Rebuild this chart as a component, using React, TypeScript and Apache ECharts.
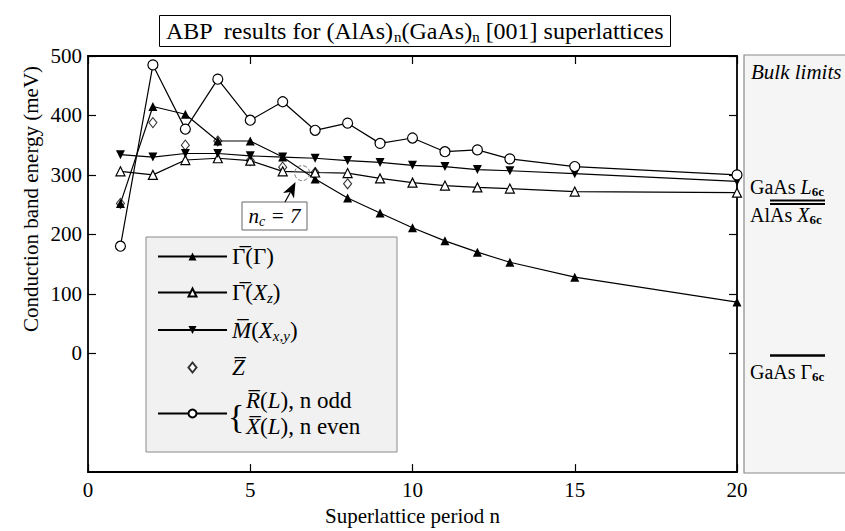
import React, { useEffect, useRef } from "react";
import * as echarts from "echarts";

const periods = [1, 2, 3, 4, 5, 6, 7, 8, 9, 10, 11, 12, 13, 15, 20];
const gammaGamma = [252, 415, 402, 357, 357, 330, 293, 261, 236, 211, 189, 170, 153, 128, 86];
const gammaXz = [306, 300, 325, 328, 324, 306, 304, 303, 294, 287, 282, 279, 277, 272, 270];
const mXxy = [334, 330, 336, 336, 332, 330, 328, 324, 321, 316, 314, 309, 307, 302, 289];
const zPeriods = [1, 2, 3, 4, 5, 6, 7, 8];
const zBar = [252, 388, 350, 357, 324, 313, 304, 285];
const rxL = [180, 485, 377, 461, 392, 423, 375, 387, 353, 362, 339, 342, 327, 314, 300];
const yTicks = [0, 100, 200, 300, 400, 500];
const crossing = [6.6, 303];

const FONT = "'Liberation Serif', 'Times New Roman', 'DejaVu Serif', serif";

function pairs(xs: number[], ys: number[]) {
  return xs.map((x, i) => [x, ys[i]]);
}

export default function App() {
  const ref = useRef<HTMLDivElement>(null);
  useEffect(() => {
    document.body.style.margin = "0";
    const chart = echarts.init(ref.current!, null, { renderer: "svg" });
    const base = { fontFamily: FONT, fontSize: 23, color: "#000", lineHeight: 26, fontWeight: "normal" };
    const rich = {
      t: { ...base },
      o: { ...base },
      i: { ...base, fontStyle: "italic" },
      io: { ...base, fontStyle: "italic" },
      s: { ...base, fontSize: 15, fontStyle: "italic", lineHeight: 15, verticalAlign: "bottom" },
      sp: { width: 14, lineHeight: 26 },
    };
    const legendLabels: Record<string, string> = {
      GG: "{o|\u0393\u0305}{t|(\u0393)}",
      GX: "{o|\u0393\u0305}{t|(}{i|X}{s|z}{t|)}",
      MX: "{io|M\u0305}{t|(}{i|X}{s|x,y}{t|)}",
      Z: "{io|Z\u0305}",
      RL: "{sp|}{io|R\u0305}{t|(}{i|L}{t|), n odd}\n{sp|}{io|X\u0305}{t|(}{i|L}{t|), n even}",
    };
    const axisCommon = {
      type: "value" as const,
      axisLine: { show: true, onZero: false, lineStyle: { color: "#000", width: 1.8 } },
      splitLine: { show: false },
    };
    const tick = { inside: true, length: 8, lineStyle: { color: "#000", width: 1.2 } };
    const panelRich = {
      r: { fontFamily: FONT, fontSize: 20, fill: "#000", lineHeight: 22 },
      i: { fontFamily: FONT, fontSize: 20, fontStyle: "italic", fill: "#000", lineHeight: 22 },
      b: { fontFamily: FONT, fontSize: 13, fontWeight: "bold", fill: "#000", lineHeight: 12, verticalAlign: "bottom" },
    };
    chart.setOption({
      animation: false,
      backgroundColor: "#fff",
      title: {
        text: "{t|ABP  results for (AlAs)}{s|n}{t|(GaAs)}{s|n}{t| [001] superlattices}",
        left: 159,
        top: 14,
        padding: [3, 7, 3, 7],
        borderWidth: 1,
        borderColor: "#000",
        textStyle: {
          fontWeight: "normal",
          fontFamily: FONT,
          rich: {
            t: { fontFamily: FONT, fontSize: 24, color: "#000", lineHeight: 27, fontWeight: "normal" },
            s: { fontFamily: FONT, fontSize: 15, color: "#000", lineHeight: 13, verticalAlign: "bottom", fontWeight: "normal" },
          },
        },
      },
      textStyle: { fontFamily: FONT },
      grid: { left: 88, top: 56, width: 649, height: 420 },
      xAxis: [
        {
          ...axisCommon,
          min: 0,
          max: 20,
          interval: 5,
          position: "bottom",
          name: "Superlattice period n",
          nameLocation: "middle",
          nameGap: 32,
          nameTextStyle: { fontFamily: FONT, fontSize: 21, color: "#000" },
          axisTick: tick,
          axisLabel: { fontFamily: FONT, fontSize: 21, color: "#000", margin: 7 },
        },
        {
          ...axisCommon,
          min: 0,
          max: 20,
          interval: 5,
          position: "top",
          axisTick: tick,
          axisLabel: { show: false },
        },
      ],
      yAxis: [
        {
          ...axisCommon,
          min: -200,
          max: 500,
          interval: 100,
          position: "left",
          axisTick: { ...tick, customValues: yTicks },
          axisLabel: {
            fontFamily: FONT,
            fontSize: 21,
            color: "#000",
            margin: 6,
            customValues: yTicks,
            formatter: (v: number) => (v < 0 ? "" : String(v)),
          },
        },
        {
          ...axisCommon,
          min: -200,
          max: 500,
          interval: 100,
          position: "right",
          axisTick: { ...tick, customValues: yTicks },
          axisLabel: { show: false },
        },
      ],
      legend: [
        {
          data: [
            { name: "GG" },
            { name: "GX" },
            { name: "MX" },
            { name: "Z", icon: "path://M0,0M69,10M34.5,0L38.5,5L34.5,10L30.5,5Z" },
          ],
          orient: "vertical",
          left: 157,
          top: 245,
          padding: 0,
          itemWidth: 69,
          itemHeight: 10,
          itemGap: 13,
          selectedMode: false,
          formatter: (name: string) => legendLabels[name],
          textStyle: { rich },
          z: 5,
        },
        {
          data: ["RL"],
          orient: "vertical",
          left: 157,
          top: 389,
          padding: 0,
          itemWidth: 69,
          itemHeight: 10,
          selectedMode: false,
          formatter: (name: string) => legendLabels[name],
          textStyle: { rich },
          z: 5,
        },
      ],
      graphic: [
        {
          type: "rect",
          z: 3,
          shape: { x: 146, y: 237, width: 251, height: 215 },
          style: { fill: "#f1f1f1", stroke: "#8a8a8a", lineWidth: 1 },
        },
        {
          type: "text",
          z: 6,
          x: 228,
          y: 416,
          style: { text: "{", font: `34px ${FONT}`, fill: "#000", textAlign: "left", textVerticalAlign: "middle" },
        },
        {
          type: "text",
          x: 31,
          y: 199,
          rotation: Math.PI / 2,
          style: {
            text: "Conduction band energy (meV)",
            font: `21px ${FONT}`,
            fill: "#000",
            textAlign: "center",
            textVerticalAlign: "middle",
          },
        },
        {
          type: "rect",
          z: 6,
          shape: { x: 242, y: 202, width: 65, height: 28 },
          style: { fill: "#fff", stroke: "#666", lineWidth: 1 },
        },
        {
          type: "text",
          z: 7,
          x: 274.5,
          y: 216,
          style: {
            text: "{i|n}{s|c}{i| = 7}",
            textAlign: "center",
            textVerticalAlign: "middle",
            rich: {
              i: { fontFamily: FONT, fontSize: 21, fontStyle: "italic", fill: "#000", lineHeight: 24 },
              s: { fontFamily: FONT, fontSize: 14, fontStyle: "italic", fill: "#000", lineHeight: 12, verticalAlign: "bottom" },
            },
          },
        },
        {
          type: "line",
          z: 7,
          shape: { x1: 285, y1: 202, x2: 290.5, y2: 192 },
          style: { stroke: "#000", lineWidth: 1.2 },
        },
        {
          type: "polygon",
          z: 7,
          shape: { points: [[295.5, 182], [294, 198.5], [290.5, 192], [283, 193]] },
          style: { fill: "#000" },
        },
        {
          type: "rect",
          shape: { x: 744, y: 55, width: 110, height: 418 },
          style: { fill: "#f5f5f5", stroke: "#8a8a8a", lineWidth: 1.2 },
        },
        {
          type: "text",
          x: 751,
          y: 72,
          style: { text: "Bulk limits", font: `italic 21px ${FONT}`, fill: "#000", textVerticalAlign: "middle" },
        },
        {
          type: "text",
          x: 750,
          y: 187,
          style: { text: "{r|GaAs }{i|L}{b|6c}", textVerticalAlign: "middle", rich: panelRich },
        },
        {
          type: "line",
          shape: { x1: 770, y1: 200.5, x2: 825, y2: 200.5 },
          style: { stroke: "#000", lineWidth: 2 },
        },
        {
          type: "line",
          shape: { x1: 770, y1: 204, x2: 825, y2: 204 },
          style: { stroke: "#000", lineWidth: 2 },
        },
        {
          type: "text",
          x: 750,
          y: 215,
          style: { text: "{r|AlAs }{i|X}{b|6c}", textVerticalAlign: "middle", rich: panelRich },
        },
        {
          type: "line",
          shape: { x1: 770, y1: 355.5, x2: 825, y2: 355.5 },
          style: { stroke: "#000", lineWidth: 2.5 },
        },
        {
          type: "text",
          x: 750,
          y: 372,
          style: { text: "{r|GaAs \u0393}{b|6c}", textVerticalAlign: "middle", rich: panelRich },
        },
      ],
      series: [
        {
          name: "GG",
          type: "line",
          data: pairs(periods, gammaGamma),
          symbol: "triangle",
          symbolSize: 9,
          itemStyle: { color: "#000" },
          lineStyle: { color: "#000", width: 1.2 },
          markPoint: {
            symbol: "circle",
            symbolSize: 15,
            label: { show: false },
            itemStyle: { color: "rgba(0,0,0,0)", borderColor: "#777", borderWidth: 1, borderType: "dashed" },
            data: [{ coord: crossing }],
          },
        },
        {
          name: "GX",
          type: "line",
          data: pairs(periods, gammaXz),
          symbol: "triangle",
          symbolSize: 9,
          itemStyle: { color: "#fff", borderColor: "#000", borderWidth: 1.2 },
          lineStyle: { color: "#000", width: 1.2 },
        },
        {
          name: "MX",
          type: "line",
          data: pairs(periods, mXxy),
          symbol: "triangle",
          symbolRotate: 180,
          symbolSize: 9,
          itemStyle: { color: "#000" },
          lineStyle: { color: "#000", width: 1.2 },
        },
        {
          name: "Z",
          type: "scatter",
          data: pairs(zPeriods, zBar),
          symbol: "diamond",
          symbolSize: [8, 10],
          itemStyle: { color: "#fff", borderColor: "#000", borderWidth: 1.1 },
        },
        {
          name: "RL",
          type: "line",
          data: pairs(periods, rxL),
          symbol: "circle",
          symbolSize: 10,
          itemStyle: { color: "#fff", borderColor: "#000", borderWidth: 1.2 },
          lineStyle: { color: "#000", width: 1.2 },
        },
      ],
    });
    return () => chart.dispose();
  }, []);
  return <div ref={ref} style={{ width: 845, height: 531 }} />;
}
